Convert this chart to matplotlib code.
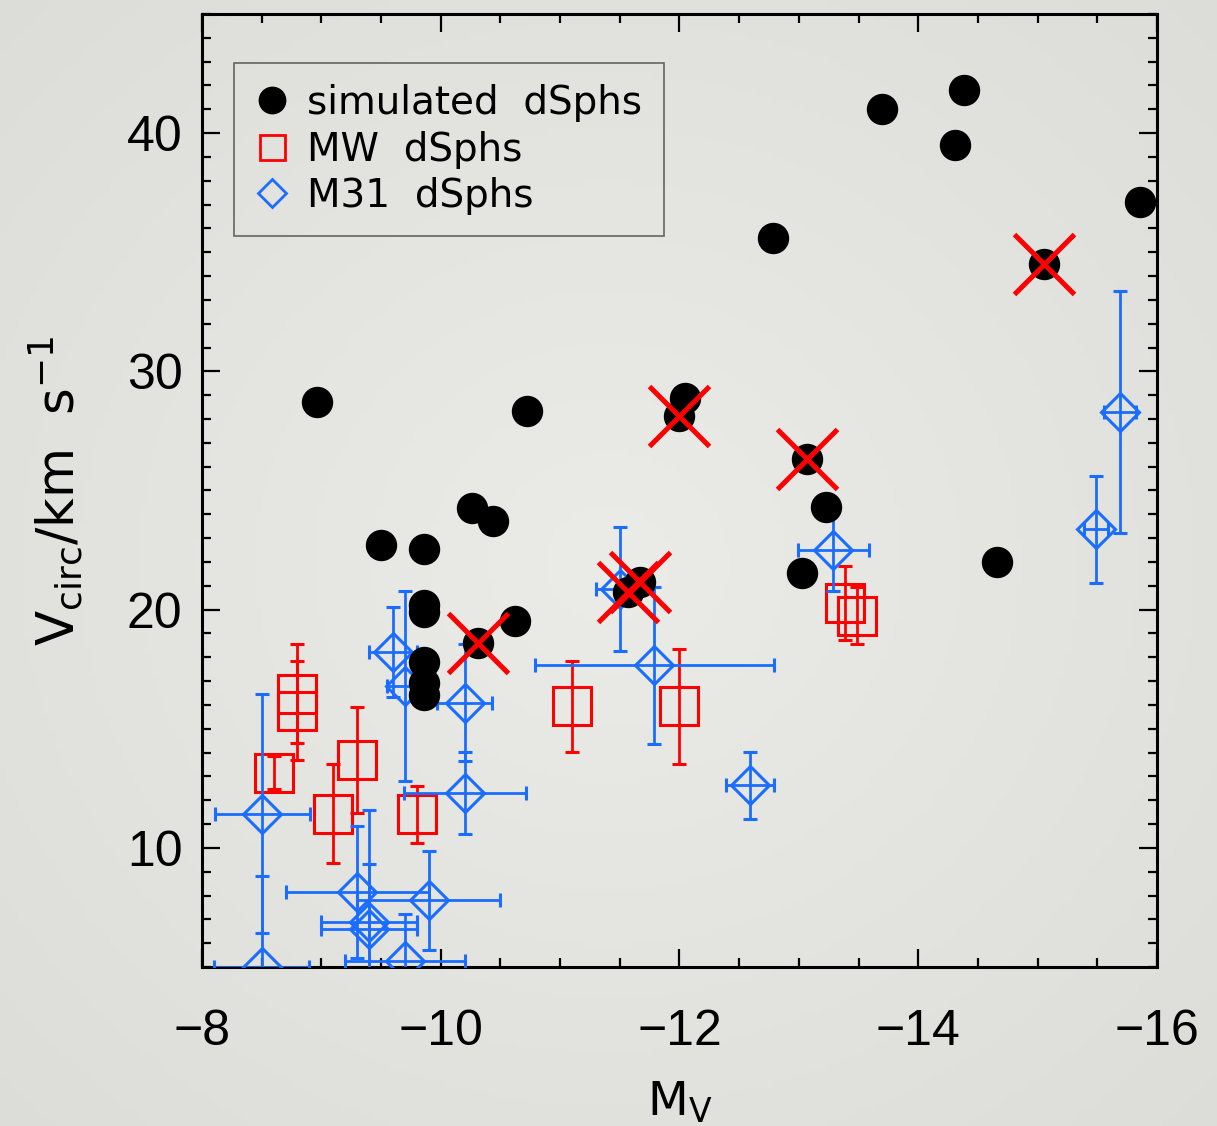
import numpy as np
import matplotlib
matplotlib.use("Agg")
import matplotlib.pyplot as plt
from matplotlib.lines import Line2D
from matplotlib.ticker import MultipleLocator
from matplotlib.colors import LinearSegmentedColormap
from matplotlib import font_manager

# simulated dSphs (black dots)
sim_mv = [-8.96, -9.50, -9.86, -9.86, -9.86, -9.86, -9.86, -9.86, -10.26, -10.44,
          -10.72, -10.62, -12.05, -12.78, -13.23, -13.03, -13.70, -14.38, -14.31,
          -15.86, -14.66]
sim_vc = [28.71, 22.71, 22.54, 20.2, 19.9, 17.8, 16.9, 16.4, 24.26, 23.72,
          28.33, 19.52, 28.88, 35.60, 24.30, 21.53, 41.01, 41.81, 39.50,
          37.09, 21.99]

# simulated dSphs that carry a red cross
cross_mv = [-10.31, -11.57, -11.67, -12.00, -13.07, -15.05]
cross_vc = [18.59, 20.75, 21.17, 28.12, 26.32, 34.49]

# MW dSphs
mw_mv = [-8.80, -8.80, -8.60, -9.10, -9.30, -9.80, -11.10, -12.00, -13.39, -13.49]
mw_vc = [16.47, 15.75, 13.16, 11.43, 13.69, 11.41, 15.94, 15.94, 20.28, 19.75]
mw_err = [2.08, 2.08, 0.70, 2.08, 2.24, 1.20, 1.90, 2.42, 1.55, 1.21]

# M31 dSphs
m31_mv = [-8.505, -8.50, -9.60, -9.70, -10.20, -10.20, -9.30, -9.90, -9.40, -9.40,
          -9.70, -11.50, -11.79, -12.59, -13.29, -15.49, -15.69]
m31_vc = [11.43, 5.0, 18.22, 16.80, 16.09, 12.31, 8.13, 7.80, 6.89, 6.61,
          5.25, 20.86, 17.67, 12.63, 22.50, 23.37, 28.31]
m31_xerr = [0.40, 0.40, 0.20, 0.15, 0.23, 0.51, 0.60, 0.60, 0.40, 0.40,
            0.50, 0.20, 1.00, 0.20, 0.30, 0.10, 0.13]
m31_yerr = [5.01, 3.80, 1.89, 3.99, 2.46, 1.73, 2.77, 2.08, 4.69, 2.73,
            1.99, 2.59, 3.29, 1.40, 1.71, 2.24, 5.08]

names = {f.name for f in font_manager.fontManager.ttflist}
num_font = 'Liberation Sans Narrow' if 'Liberation Sans Narrow' in names else 'Liberation Sans'
txt_font = 'DejaVu Sans'

plt.rcParams['mathtext.fontset'] = 'custom'
plt.rcParams['mathtext.rm'] = txt_font
plt.rcParams['mathtext.it'] = txt_font

blue = '#1a6dff'

fig = plt.figure(figsize=(12.17, 11.26), dpi=100)

# light grey backdrop with a soft vignette
bg = fig.add_axes([0, 0, 1, 1], zorder=-10)
yy, xx = np.mgrid[-1:1:200j, -1:1:200j]
bg.imshow(np.hypot(xx, yy), cmap=LinearSegmentedColormap.from_list('bg', ['#ebebe8', '#dcdcd8']),
          vmin=0, vmax=1.45, aspect='auto', extent=(0, 1, 0, 1))
bg.axis('off')

ax = fig.add_axes([0.16598, 0.14121, 0.78472, 0.84636])
ax.set_facecolor('none')

ax.errorbar(mw_mv, mw_vc, yerr=mw_err, fmt='s', ms=28, mfc='none', mec='red', mew=2.2,
            ecolor='red', elinewidth=2, capsize=5, capthick=2, zorder=2)
ax.errorbar(m31_mv, m31_vc, xerr=m31_xerr, yerr=m31_yerr, fmt='D', ms=19.5, mfc='none',
            mec=blue, mew=2.2, ecolor=blue, elinewidth=2, capsize=5, capthick=2, zorder=3)
ax.plot(sim_mv + cross_mv, sim_vc + cross_vc, 'o', color='black', ms=21.6, zorder=4)
ax.plot(cross_mv, cross_vc, 'x', color='red', ms=43, mew=3.6, zorder=5)

ax.set_xlim(-8, -16)
ax.set_ylim(5, 45)
ax.xaxis.set_major_locator(MultipleLocator(2))
ax.xaxis.set_minor_locator(MultipleLocator(0.5))
ax.yaxis.set_major_locator(MultipleLocator(10))
ax.yaxis.set_minor_locator(MultipleLocator(1))
ax.tick_params(which='both', direction='in', top=True, right=True, width=1.6, color='black')
ax.tick_params(which='major', length=13, labelsize=36)
ax.tick_params(which='minor', length=6.5)
ax.tick_params(axis='x', pad=30)
ax.tick_params(axis='y', pad=14)
for lab in ax.get_xticklabels() + ax.get_yticklabels():
    lab.set_fontfamily(num_font)
for s in ax.spines.values():
    s.set_linewidth(2.2)

ax.set_xlabel(r'M$_\mathrm{V}$', fontsize=34, family=txt_font, labelpad=18)
ax.set_ylabel(r'V$_\mathrm{circ}$/km  s$^{-1}$', fontsize=37, family=txt_font, labelpad=30)

handles = [
    Line2D([], [], marker='o', ls='none', color='black', ms=19, label='simulated  dSphs'),
    Line2D([], [], marker='s', ls='none', mfc='none', mec='red', mew=2, ms=18, label='MW  dSphs'),
    Line2D([], [], marker='D', ls='none', mfc='none', mec=blue, mew=2, ms=14, label='M31  dSphs'),
]
leg = ax.legend(handles=handles, loc='upper left', bbox_to_anchor=(0.033, 0.949), borderaxespad=0,
                fancybox=False, edgecolor='#444444', facecolor='none',
                prop={'family': txt_font, 'size': 28}, handlelength=0.9, handletextpad=0.45,
                labelspacing=0.22, borderpad=0.55)
leg.get_frame().set_linewidth(1.2)

fig.savefig('out.png', dpi=100)
